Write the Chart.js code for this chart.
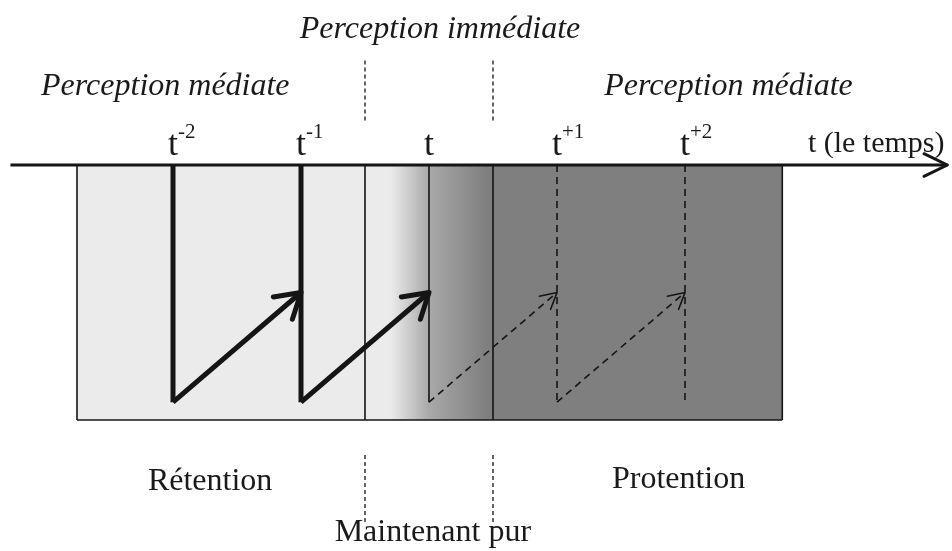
<!DOCTYPE html>
<html>
<head>
<meta charset="utf-8">
<script src="https://cdn.jsdelivr.net/npm/chart.js@4/dist/chart.umd.min.js"></script>
<style>
  body { margin: 0; background: #fff; }
  #wrap { width: 952px; height: 551px; }
</style>
</head>
<body>
<div id="wrap"><canvas id="diagram" width="952" height="551"></canvas></div>
<script>
/*==================== data (time units) ====================*/
// moments on the time axis: t-2 .. t+2
const timePos = [-2, -1, 0, 1, 2];
const timeSup = ['-2', '-1', '', '+1', '+2'];
// foot and tip of the retention / protention arrows (depth below the axis)
const arrowFoot = -0.93;
const arrowTip = -0.5;
// extent of the shaded band and of the "now" window
const bandRange = [-2.75, 2.76];
const nowRange = [-0.5, 0.5];
const axisRange = [-3.27, 4.05];
// texts
const zoneTop = ['Perception médiate', 'Perception immédiate', 'Perception médiate'];
const zoneBottom = ['Rétention', 'Maintenant pur', 'Protention'];
const axisTitle = 't (le temps)';

/*==================== helpers ====================*/
const INK = '#151515';
function seg(p, q, width, dash) {
    return {
        data: [p, q],
        showLine: true,
        borderColor: INK,
        borderWidth: width,
        borderDash: dash || [],
        pointRadius: 0,
        borderCapStyle: 'butt',
        fill: false
    };
}
function styleFor(k) {
    if (k < 0) return { w: 5, dash: [] };
    if (k === 0) return { w: 1.6, dash: [] };
    return { w: 1.6, dash: [7, 5] };
}

const datasets = [];
// time axis
datasets.push(seg({x: axisRange[0], y: 0}, {x: axisRange[1], y: 0}, 3));
// band outline
datasets.push(seg({x: bandRange[0], y: 0}, {x: bandRange[0], y: -1}, 1.6));
datasets.push(seg({x: bandRange[0], y: -1}, {x: bandRange[1], y: -1}, 1.6));
datasets.push(seg({x: bandRange[1], y: -1}, {x: bandRange[1], y: 0}, 1.6));
// present window boundaries
nowRange.forEach(b => {
    datasets.push(seg({x: b, y: 0}, {x: b, y: -1}, 1.6));
    datasets.push(seg({x: b, y: 0.41}, {x: b, y: 0.165}, 1.3, [4, 3]));
    datasets.push(seg({x: b, y: -1.137}, {x: b, y: -1.40}, 1.3, [4, 3]));
});
// verticals at each moment
timePos.forEach(k => {
    const s = styleFor(k);
    datasets.push(seg({x: k, y: 0}, {x: k, y: arrowFoot}, s.w, s.dash));
});
// diagonals to next moment
const arrows = [];
timePos.slice(0, -1).forEach(k => {
    const s = styleFor(k < 0 ? k : 1);
    datasets.push(seg({x: k, y: arrowFoot}, {x: k + 1, y: arrowTip}, s.w, s.dash));
    arrows.push({from: {x: k, y: arrowFoot}, to: {x: k + 1, y: arrowTip}, w: s.w});
});

/*==================== plugins ====================*/
const bandPlugin = {
    id: 'band',
    beforeDatasetsDraw(chart) {
        const {ctx, scales: {x, y}} = chart;
        const x0 = x.getPixelForValue(bandRange[0]), x1 = x.getPixelForValue(bandRange[1]);
        const y0 = y.getPixelForValue(0), y1 = y.getPixelForValue(-1);
        const g = ctx.createLinearGradient(x.getPixelForValue(-0.3), 0, x.getPixelForValue(0.45), 0);
        g.addColorStop(0, '#ebebeb');
        g.addColorStop(0.4, '#a9a9a9');
        g.addColorStop(1, '#7f7f7f');
        ctx.save();
        ctx.fillStyle = g;
        ctx.fillRect(x0, y0, x1 - x0, y1 - y0);
        ctx.restore();
    }
};

function chevron(ctx, tx, ty, ang, len, spread, w) {
    ctx.save();
    ctx.strokeStyle = INK;
    ctx.lineWidth = w;
    ctx.lineCap = 'round';
    ctx.lineJoin = 'round';
    ctx.beginPath();
    ctx.moveTo(tx - len * Math.cos(ang - spread), ty - len * Math.sin(ang - spread));
    ctx.lineTo(tx, ty);
    ctx.lineTo(tx - len * Math.cos(ang + spread), ty - len * Math.sin(ang + spread));
    ctx.stroke();
    ctx.restore();
}

const decoPlugin = {
    id: 'deco',
    afterDatasetsDraw(chart) {
        const {ctx, scales: {x, y}} = chart;
        const px = v => x.getPixelForValue(v), py = v => y.getPixelForValue(v);
        // arrowheads
        arrows.forEach(a => {
            const fx = px(a.from.x), fy = py(a.from.y), tx = px(a.to.x), ty = py(a.to.y);
            const ang = Math.atan2(ty - fy, tx - fx);
            const big = a.w > 3;
            chevron(ctx, tx, ty, ang, big ? 28 : 18, big ? 0.55 : 0.5, big ? 5 : 1.6);
        });
        chevron(ctx, px(axisRange[1]), py(0), 0, 26, 0.45, 3);

        ctx.save();
        ctx.fillStyle = '#1a1a1a';
        ctx.textBaseline = 'alphabetic';
        // zone titles above
        ctx.font = 'italic 32px "Liberation Serif"';
        ctx.textAlign = 'center';
        ctx.fillText(zoneTop[0], px(-2.06), py(0.275));
        ctx.fillText(zoneTop[1], px(0.086), py(0.498));
        ctx.fillText(zoneTop[2], px(2.34), py(0.275));
        // moments
        timePos.forEach((k, i) => {
            ctx.font = '36px "Liberation Serif"';
            ctx.textAlign = 'right';
            ctx.fillText('t', px(k) + 5, py(0.04));
            if (timeSup[i]) {
                ctx.font = '21px "Liberation Serif"';
                ctx.textAlign = 'left';
                ctx.fillText(timeSup[i], px(k) + 5, py(0.105));
            }
        });
        // axis title
        ctx.font = '30px "Liberation Serif"';
        ctx.textAlign = 'left';
        ctx.fillText(axisTitle, px(2.96), py(0.05));
        // zone names below
        ctx.font = '32px "Liberation Serif"';
        ctx.textAlign = 'center';
        ctx.fillText(zoneBottom[0], px(-1.71), py(-1.275));
        ctx.fillText(zoneBottom[1], px(0.03), py(-1.475));
        ctx.fillText(zoneBottom[2], px(1.95), py(-1.267));
        ctx.restore();
    }
};

/*==================== chart ====================*/
new Chart(document.getElementById('diagram'), {
    type: 'scatter',
    data: { datasets: datasets },
    options: {
        responsive: false,
        animation: false,
        layout: { padding: 0 },
        plugins: { legend: { display: false }, tooltip: { enabled: false } },
        scales: {
            x: { type: 'linear', display: false, min: -429 / 128, max: (952 - 429) / 128 },
            y: { type: 'linear', display: false, min: -(551 - 165) / 255, max: 165 / 255 }
        }
    },
    plugins: [bandPlugin, decoPlugin]
});
</script>
</body>
</html>
